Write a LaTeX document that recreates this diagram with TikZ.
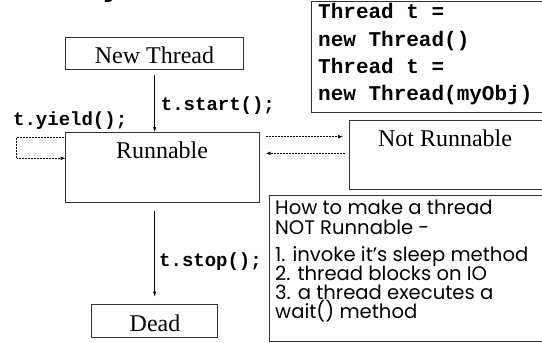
\documentclass[tikz,border=0pt]{standalone}
\usepackage{fontspec}
\setmainfont{Liberation Serif}
\newfontfamily\codefont{Liberation Mono}
\newfontfamily\notefont{Poppins}
\newfontfamily\titlefont{Liberation Sans}
\usetikzlibrary{arrows.meta}
\begin{document}
\begin{tikzpicture}[x=1pt,y=-1pt,
  box/.style={draw=black!80, line width=0.9pt, inner sep=0pt, outer sep=0pt},
  state/.style={font=\fontsize{24}{28}\selectfont, inner sep=0pt, anchor=base},
  code/.style={font=\codefont\bfseries\fontsize{21}{24}\selectfont, inner sep=0pt, anchor=base west},
  call/.style={font=\codefont\bfseries\fontsize{19}{22}\selectfont, inner sep=0pt, anchor=base west},
  note/.style={font=\notefont\fontsize{19.6}{22}\selectfont, inner sep=0pt, anchor=base west},
  flow/.style={line width=0.8pt, -{Latex[length=5pt,width=3.5pt]}},
  dotflow/.style={line width=0.7pt, dash pattern=on 0.8pt off 0.7pt, -{Latex[length=5pt,width=3.5pt]}}]
\useasboundingbox (0,0) rectangle (542,343);
\clip (0,0) rectangle (542,343);

% fragment of the heading above
\node[font=\titlefont\bfseries\fontsize{34}{40}\selectfont, anchor=base west, inner sep=0pt] (titlefrag) at (103,-5) {y};

% state boxes
\node[box, minimum width=178pt, minimum height=32pt] (newthread) at (154.7,53.3) {};
\node[box, minimum width=193.5pt, minimum height=70.3pt] (runnable) at (162.45,167.15) {};
\node[box, minimum width=211pt, minimum height=69.3pt] (notrun) at (454.5,154.65) {};
\node[box, minimum width=126pt, minimum height=33.7pt] (dead) at (154.7,320.85) {};

% side panels
\node[box, minimum width=249pt, minimum height=111.3pt] (codebox) at (435.5,56.8) {};
\node[box, minimum width=290.4pt, minimum height=146.7pt] (howto) at (414.8,268.35) {};

% state names
\node[state] (newthreadtxt) at (154.5,63.3) {New Thread};
\node[state] (runnabletxt) at (162,158) {Runnable};
\node[state] (notruntxt) at (445,146.7) {Not Runnable};
\node[state] (deadtxt) at (155,331.5) {Dead};

% constructor code
\node[code] (c1) at (318,18.3) {Thread t =};
\node[code] (c2) at (318,46) {new Thread()};
\node[code] (c3) at (318,73.3) {Thread t =};
\node[code] (c4) at (318,100.7) {new Thread(myObj)};

% method calls on the transitions
\node[call] (startlbl) at (160.7,110) {t.start();};
\node[call] (yieldlbl) at (13,125) {t.yield();};
\node[call] (stoplbl) at (159,266) {t.stop();};

% note on blocking
\node[note] (h1) at (275,214) {How to make a thread};
\node[note] (h2) at (275,234) {NOT Runnable -};
\node[note] (h3) at (275,261) {1. invoke it’s sleep method};
\node[note] (h4) at (275,280) {2. thread blocks on IO};
\node[note] (h5) at (275,299.3) {3. a thread executes a};
\node[note] (h6) at (275,318.3) {wait() method};

% transitions
\draw[flow, shorten <=5.7pt] (newthread.south) -- (newthread.south |- runnable.north);
\draw[flow, shorten <=8.4pt, shorten >=7.3pt] (dead.north |- runnable.south) -- (dead.north);
\draw[dotflow] ([yshift=-5.3pt]runnable.north west) -- ++(-49,0) |- ([yshift=-26.3pt]runnable.north west);
\coordinate (ra) at ([yshift=-4.7pt]runnable.north east);
\coordinate (la) at ([yshift=-21.3pt]runnable.north east);
\draw[dotflow, shorten <=6.3pt, shorten >=5.8pt] (ra) -- (ra -| notrun.west);
\draw[dotflow, shorten <=4pt, shorten >=6.3pt] (la -| notrun.west) -- (la);
\end{tikzpicture}
\end{document}
